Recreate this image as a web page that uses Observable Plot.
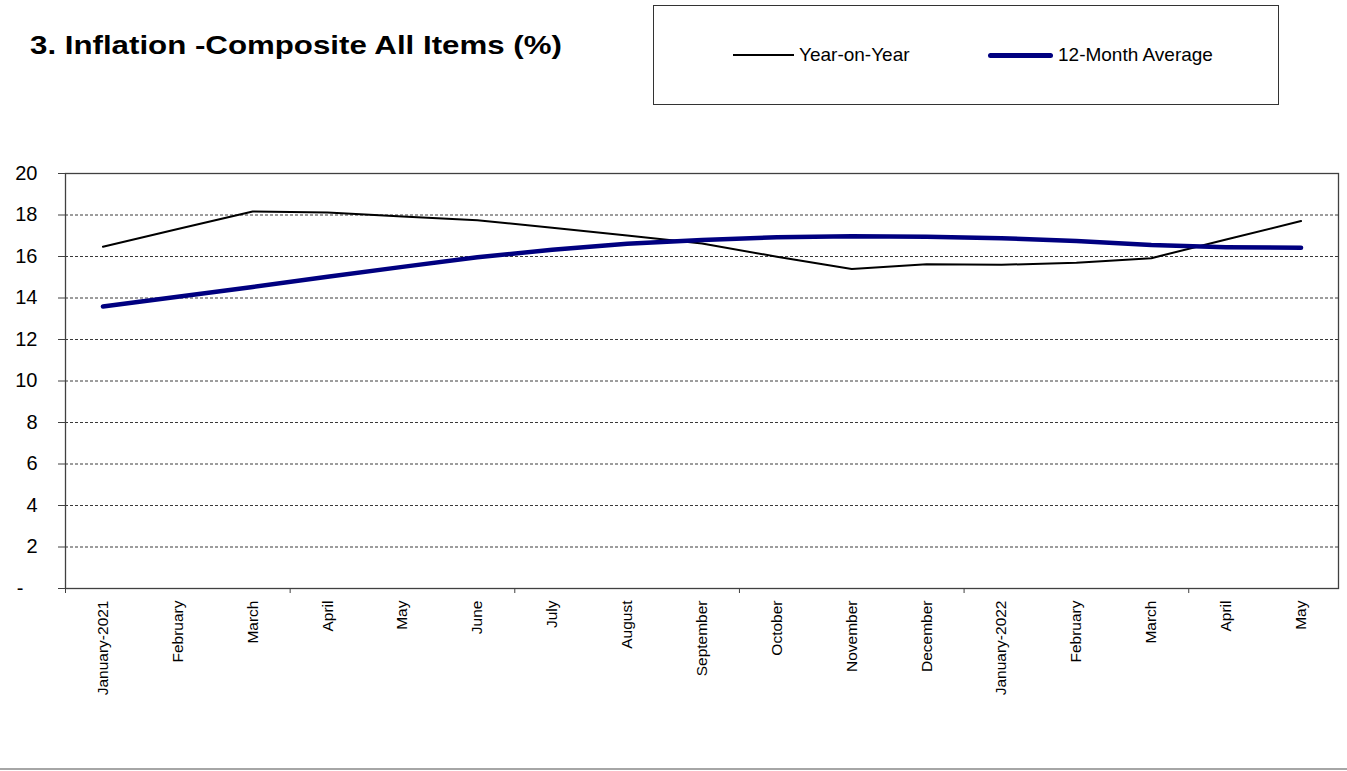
<!DOCTYPE html>
<html>
<head>
<meta charset="utf-8">
<script src="https://cdn.jsdelivr.net/npm/d3@7"></script>
<script src="https://cdn.jsdelivr.net/npm/@observablehq/plot@0.6"></script>
<style>
  html, body { margin: 0; padding: 0; background: #fff; width: 1347px; height: 771px; overflow: hidden; }
  body { position: relative; font-family: "Liberation Sans", Arial, sans-serif; color: #000; }
  #title { position: absolute; left: 30px; top: 32px; font-size: 25px; line-height: 26px; font-weight: bold; white-space: nowrap; transform: scaleX(1.25); transform-origin: 0 50%; }
  #legend { position: absolute; left: 653px; top: 5px; width: 624px; height: 98px; border: 1px solid #333; box-sizing: content-box; }
  .item { position: absolute; top: 0; height: 98px; display: flex; align-items: center; font-size: 19px; white-space: nowrap; }
  .swatch { display: inline-block; margin-right: 5px; }
  #chart { position: absolute; left: 0; top: 120px; }
  #rule { position: absolute; left: 0; top: 768px; width: 1347px; height: 2px; background: #a6a6a6; }
</style>
</head>
<body>
<div id="title">3. Inflation -Composite All Items (%)</div>
<div id="legend"></div>
<div id="chart"></div>
<div id="rule"></div>
<script>
// ---- data ----
const months = ["January-2021","February","March","April","May","June","July","August","September","October","November","December","January-2022","February","March","April","May"];
const yearOnYear = [16.47,17.33,18.17,18.12,17.93,17.75,17.38,17.01,16.63,15.99,15.40,15.63,15.60,15.70,15.92,16.82,17.71];
const twelveMonthAvg = [13.59,14.06,14.53,15.02,15.50,15.96,16.33,16.62,16.80,16.93,16.98,16.95,16.88,16.75,16.55,16.45,16.42];
const yTickValues = [2,4,6,8,10,12,14,16,18,20];
const gridValues = [2,4,6,8,10,12,14,16,18];
const seriesNames = ["Year-on-Year", "12-Month Average"];
const seriesColors = ["#000000", "#000080"];

// ---- table built from arrays ----
const idx = months.map((_, i) => i);
const rows = idx.map(i => ({i, month: months[i], yoy: yearOnYear[i], avg: twelveMonthAvg[i]}));
const quarterBounds = [];
for (let b = -0.5; b < months.length; b += 3) quarterBounds.push(b);

// ---- legend ----
const legend = document.getElementById("legend");
const legendSpec = [
  {left: 79, w: 61, h: 2},
  {left: 334, w: 65, h: 5}
];
seriesNames.forEach((name, k) => {
  const it = document.createElement("div");
  it.className = "item";
  it.style.left = legendSpec[k].left + "px";
  const sw = document.createElement("span");
  sw.className = "swatch";
  sw.style.width = legendSpec[k].w + "px";
  sw.style.height = legendSpec[k].h + "px";
  sw.style.background = seriesColors[k];
  sw.style.borderRadius = k === 1 ? "3px" : "0";
  it.appendChild(sw);
  it.appendChild(document.createTextNode(name));
  legend.appendChild(it);
});

// ---- chart ----
const chart = Plot.plot({
  width: 1347,
  height: 590,
  marginTop: 53,
  marginBottom: 122,
  marginLeft: 65,
  marginRight: 9,
  style: {fontFamily: "'Liberation Sans', Arial, sans-serif", fontSize: "20px", color: "#000", background: "#fff", overflow: "visible"},
  x: {type: "linear", domain: [-0.5, months.length - 0.5]},
  y: {domain: [0, 20]},
  marks: [
    Plot.ruleY(gridValues, {y: d => d, stroke: "#3a3a3a", strokeDasharray: "3,2", strokeWidth: 1}),
    Plot.frame({stroke: "#404040", strokeWidth: 1.3}),
    Plot.axisY({ticks: yTickValues, tickSize: 7, tickPadding: 21, fontSize: 20, stroke: "#404040", label: null, tickFormat: d => String(d)}),
    Plot.axisY({ticks: [0], tickSize: 7, tickPadding: 35, fontSize: 20, stroke: "#404040", label: null, tickFormat: () => "-"}),
    Plot.axisX({ticks: quarterBounds, tickSize: 5, stroke: "#404040", label: null, tickFormat: () => ""}),
    Plot.axisX({ticks: idx, tickSize: 0, tickPadding: 12, tickRotate: -90, fontSize: 15.5, label: null, tickFormat: i => months[i]}),
    Plot.line(rows, {x: "i", y: "yoy", stroke: seriesColors[0], strokeWidth: 2}),
    Plot.line(rows, {x: "i", y: "avg", stroke: seriesColors[1], strokeWidth: 4.5, strokeLinecap: "round", strokeLinejoin: "round"})
  ]
});
document.getElementById("chart").appendChild(chart);
</script>
</body>
</html>
